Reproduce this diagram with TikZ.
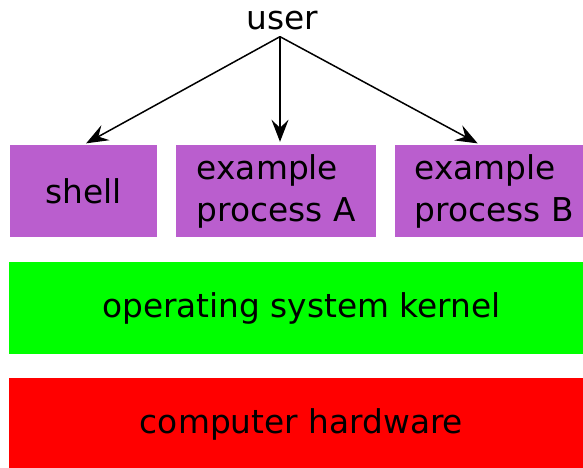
\documentclass[tikz,border=0pt]{standalone}
\usepackage{fontspec}
\setmainfont{DejaVu Sans}
\usetikzlibrary{arrows.meta, positioning}
\definecolor{procpurple}{RGB}{186,94,206}
\definecolor{kernelgreen}{RGB}{0,255,0}
\definecolor{hwred}{RGB}{255,0,0}

\begin{document}
\begin{tikzpicture}[
  x=1pt, y=-1pt,
  every node/.style={font=\fontsize{32.8}{42}\selectfont},
  proc/.style={rectangle, fill=procpurple, minimum height=92pt, inner sep=0pt, align=left},
  layer/.style={rectangle, fill=#1, minimum width=585pt, minimum height=92pt, inner sep=0pt},
  arr/.style={-{Stealth[length=22pt, width=17pt, inset=8pt]}, line width=1.5pt, shorten >=3pt}
]
\useasboundingbox (0,0) rectangle (583,468);

% ---- USER ----
\node[inner sep=6pt, anchor=base] (user) at (282.5,30) {user};

% ---- PROCESSES ----
\node[proc, minimum width=147pt] (shell) at (83.5,191) {shell};
\node[proc, minimum width=200pt, right=19pt of shell] (procA) {example\\process A};
\node[proc, minimum width=199pt, right=18pt of procA] (procB) {example\\process B};

% ---- KERNEL / HARDWARE ----
\node[layer=kernelgreen] (kernel) at (301.5,308) {operating system kernel};
\node[layer=hwred] (hw) at (301.5,424) {computer hardware};

% ---- ARROWS ----
\draw[arr] ([xshift=-2.5pt]user.south) -- (shell.north);
\draw[arr] ([xshift=-2.5pt]user.south) -- ([xshift=-2.5pt]user.south |- procA.north);
\draw[arr] ([xshift=-2.5pt]user.south) -- ([xshift=-14pt]procB.north);
\end{tikzpicture}
\end{document}
